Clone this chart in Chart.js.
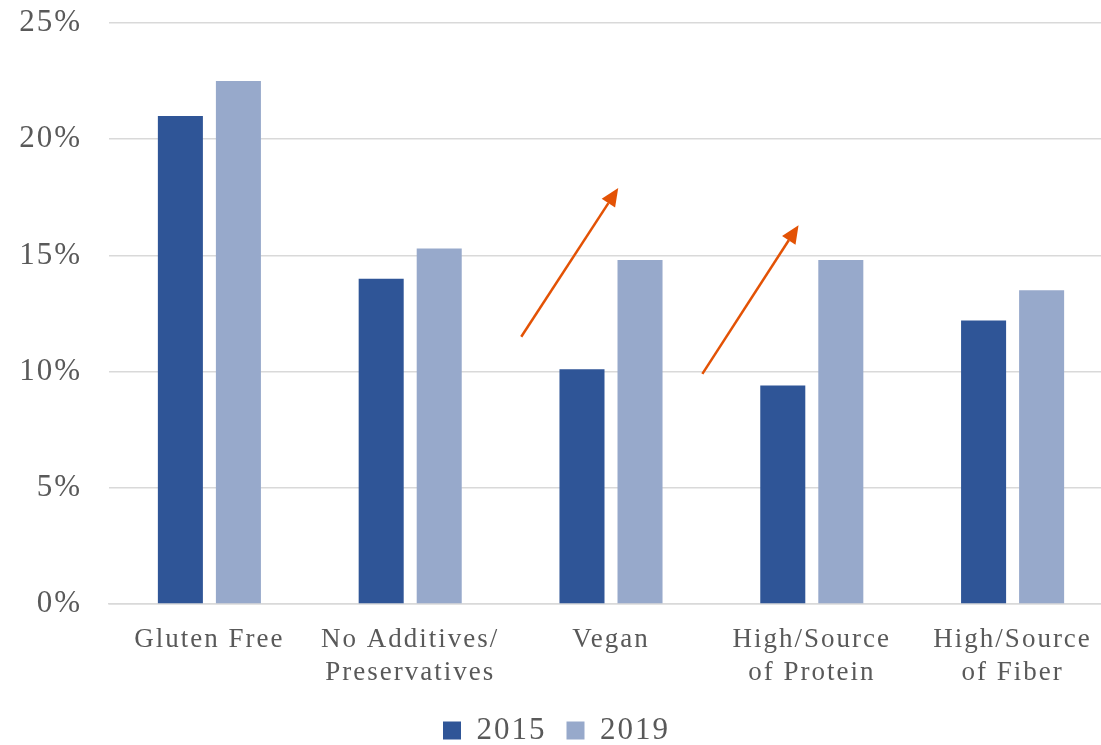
<!DOCTYPE html>
<html>
<head>
<meta charset="utf-8">
<script src="https://cdn.jsdelivr.net/npm/chart.js@4/dist/chart.umd.min.js"></script>
<style>
  html, body { margin: 0; padding: 0; background: #ffffff; overflow: hidden; }
  #wrap { width: 1113px; height: 745px; }
</style>
</head>
<body>
<div id="wrap"><canvas id="c" width="1113" height="745"></canvas></div>
<script>
const categories = [
  'Gluten Free',
  ['No Additives/', 'Preservatives'],
  'Vegan',
  ['High/Source', 'of Protein'],
  ['High/Source', 'of Fiber']
];
const seriesLabels = ['2015', '2019'];
const values2015 = [21.0, 14.0, 10.1, 9.4, 12.2];
const values2019 = [22.5, 15.3, 14.8, 14.8, 13.5];
const yTicks = [0, 5, 10, 15, 20, 25];
// arrow annotations: [category position, value %] start and end
const arrowStarts = [[1.553, 11.5], [2.455, 9.9]];
const arrowEnds = [[2.036, 17.9], [2.934, 16.3]];

const textColor = '#595959';
const fontFam = '"Liberation Serif", "Times New Roman", serif';

const spacingPlugin = {
  id: 'spacing',
  beforeInit(chart) { chart.ctx.letterSpacing = '2px'; },
  beforeUpdate(chart) { chart.ctx.letterSpacing = '2px'; },
  beforeDraw(chart) { chart.ctx.letterSpacing = '2px'; }
};

const arrowPlugin = {
  id: 'arrows',
  afterDatasetsDraw(chart) {
    const ctx = chart.ctx;
    const xs = chart.scales.x, ys = chart.scales.y;
    ctx.save();
    ctx.strokeStyle = '#E35205';
    ctx.fillStyle = '#E35205';
    ctx.lineWidth = 2.5;
    for (let i = 0; i < arrowStarts.length; i++) {
      const x1 = xs.getPixelForValue(arrowStarts[i][0]);
      const y1 = ys.getPixelForValue(arrowStarts[i][1]);
      const x2 = xs.getPixelForValue(arrowEnds[i][0]);
      const y2 = ys.getPixelForValue(arrowEnds[i][1]);
      const ang = Math.atan2(y2 - y1, x2 - x1);
      const headLen = 18, headW = 8;
      const bx = x2 - headLen * Math.cos(ang), by = y2 - headLen * Math.sin(ang);
      ctx.beginPath();
      ctx.moveTo(x1, y1);
      ctx.lineTo(bx, by);
      ctx.stroke();
      ctx.beginPath();
      ctx.moveTo(x2, y2);
      ctx.lineTo(bx + headW * Math.sin(ang), by - headW * Math.cos(ang));
      ctx.lineTo(bx - headW * Math.sin(ang), by + headW * Math.cos(ang));
      ctx.closePath();
      ctx.fill();
    }
    ctx.restore();
  }
};

new Chart(document.getElementById('c'), {
  type: 'bar',
  data: {
    labels: categories,
    datasets: [
      { label: seriesLabels[0], data: values2015, backgroundColor: '#2F5597',
        categoryPercentage: 0.578, barPercentage: 0.776 },
      { label: seriesLabels[1], data: values2019, backgroundColor: '#97A9CB',
        categoryPercentage: 0.578, barPercentage: 0.776 }
    ]
  },
  options: {
    responsive: false,
    animation: false,
    layout: { padding: { top: 23, left: 0, right: 0, bottom: -11 } },
    plugins: {
      legend: {
        position: 'bottom',
        labels: {
          color: textColor,
          font: { family: fontFam, size: 31 },
          boxWidth: 18, boxHeight: 18,
          padding: 20
        }
      },
      tooltip: { enabled: false }
    },
    scales: {
      x: {
        grid: { display: false, drawTicks: false },
        border: { display: true, color: '#d9d9d9', width: 1.5 },
        ticks: {
          color: textColor,
          font: { family: fontFam, size: 27 },
          padding: 20,
          maxRotation: 0, autoSkip: false
        },
        afterFit(scale) { scale.height = 91; }
      },
      y: {
        min: 0, max: 25,
        afterBuildTicks(scale) { scale.ticks = yTicks.map(v => ({ value: v })); },
        grid: { color: '#d9d9d9', lineWidth: 1.5, drawTicks: false },
        border: { display: false },
        ticks: {
          color: textColor,
          font: { family: fontFam, size: 31 },
          padding: 27,
          callback: v => v + '%'
        },
        afterFit(scale) {
          scale.width = 109;
          scale.paddingTop = 0;
          scale.paddingBottom = 0;
        }
      }
    }
  },
  plugins: [spacingPlugin, arrowPlugin]
});
</script>
</body>
</html>
